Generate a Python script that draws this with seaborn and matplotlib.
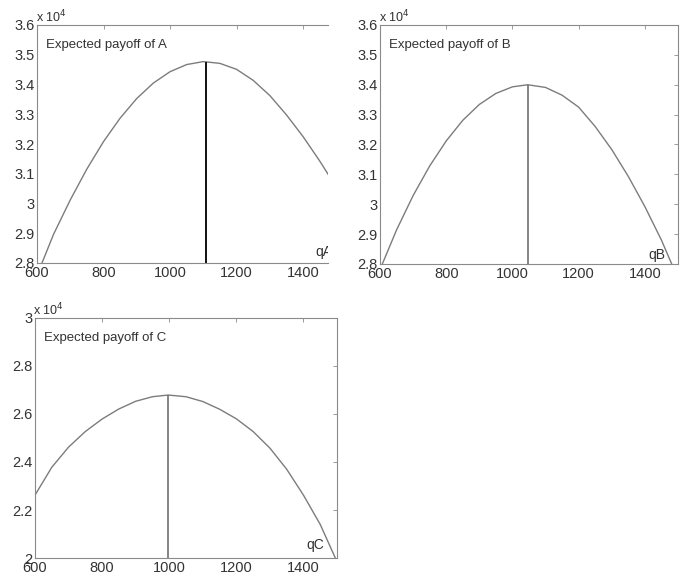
import numpy as np
import pandas as pd
import matplotlib
matplotlib.use("Agg")
import matplotlib.pyplot as plt
import seaborn as sns
from matplotlib.ticker import FuncFormatter

# =========================
# data (payoff in units of 1e4)
# =========================
q_a = [615, 650, 700, 750, 800, 850, 900, 950, 1000, 1050, 1100, 1150, 1200, 1250, 1300, 1350, 1400, 1450, 1480]
payoff_a = [2.800, 2.897, 3.012, 3.116, 3.208, 3.287, 3.353, 3.405, 3.443, 3.467, 3.477, 3.471, 3.451, 3.414,
            3.363, 3.298, 3.225, 3.143, 3.090]

q_b = [607, 650, 700, 750, 800, 850, 900, 950, 1000, 1046, 1100, 1150, 1200, 1250, 1300, 1350, 1400, 1450, 1481]
payoff_b = [2.800, 2.914, 3.029, 3.128, 3.212, 3.281, 3.334, 3.371, 3.393, 3.400, 3.391, 3.365, 3.325, 3.260,
            3.183, 3.093, 2.992, 2.880, 2.800]

q_c = [600, 650, 700, 750, 800, 850, 900, 950, 997, 1050, 1100, 1150, 1200, 1250, 1300, 1350, 1400, 1450, 1495]
payoff_c = [2.262, 2.378, 2.462, 2.527, 2.579, 2.621, 2.653, 2.672, 2.679, 2.672, 2.652, 2.620, 2.580, 2.527,
            2.458, 2.370, 2.262, 2.140, 2.000]

# optimum quantity and payoff (vertical marker)
opt_q = [1107, 1046, 997]
opt_payoff = [3.477, 3.40, 2.679]

titles = ["Expected payoff of A", "Expected payoff of B", "Expected payoff of C"]
q_labels = ["qA", "qB", "qC"]
y_limits = [(2.8, 3.6), (2.8, 3.6), (2.0, 3.0)]
y_ticks = [np.arange(2.8, 3.61, 0.1), np.arange(2.8, 3.61, 0.1), np.arange(2.0, 3.01, 0.2)]
x_ticks = [600, 800, 1000, 1200, 1400]

# =========================
# style
# =========================
sns.set_style("white")
plt.rcParams["font.family"] = ["Liberation Sans", "DejaVu Sans"]
text_col = "#333333"
box_col = "#8a8a8a"
curve_col = "#7c7c7c"

fig = plt.figure(figsize=(6.83, 5.77), dpi=100)
W, H = 683, 577


def px_axes(left, top, right, bottom):
    return fig.add_axes([left / W, (H - bottom) / H, (right - left) / W, (bottom - top) / H])


axes = [
    px_axes(37, 25, 328, 263),
    px_axes(380, 25, 678, 264),
    px_axes(35, 318, 337, 558),
]
x_limits = [(600, 1475), (600, 1500), (600, 1500)]
curves = [(q_a, payoff_a), (q_b, payoff_b), (q_c, payoff_c)]
vline_cols = ["#111111", "#707070", "#707070"]
vline_w = [1.4, 1.2, 1.2]
label_pos = [(0.955, 0.015), (0.9, 0.01), (0.9, 0.025)]

for i, ax in enumerate(axes):
    q, p = curves[i]
    df = pd.DataFrame({"q": q, "payoff": np.array(p) * 1e4})
    sns.lineplot(data=df, x="q", y="payoff", ax=ax, color=curve_col, linewidth=1.0, sort=True)
    ax.vlines(opt_q[i], y_limits[i][0] * 1e4, opt_payoff[i] * 1e4, color=vline_cols[i], linewidth=vline_w[i])

    ax.set_xlim(*x_limits[i])
    ax.set_ylim(y_limits[i][0] * 1e4, y_limits[i][1] * 1e4)
    ax.set_xticks(x_ticks)
    ax.set_yticks(y_ticks[i] * 1e4)
    ax.yaxis.set_major_formatter(FuncFormatter(lambda v, pos: f"{round(v / 1e4, 2):g}"))
    ax.set_xlabel("")
    ax.set_ylabel("")

    for s in ax.spines.values():
        s.set_color(box_col)
        s.set_linewidth(0.8)
    ax.tick_params(direction="in", length=3, width=0.6, color=box_col, labelsize=10.5,
                   labelcolor=text_col, top=True, right=(i != 0), pad=2)
    if i == 0:
        ax.spines["right"].set_visible(False)

    ax.text(-0.005, 1.0, r"x 10$^4$", transform=ax.transAxes, ha="left", va="bottom",
            fontsize=9, color=text_col)
    ax.text(0.03, 0.915, titles[i], transform=ax.transAxes, ha="left", va="center",
            fontsize=9.5, color=text_col)
    ax.text(label_pos[i][0], label_pos[i][1], q_labels[i], transform=ax.transAxes, ha="left",
            va="bottom", fontsize=10, color=text_col, clip_on=True)

fig.savefig("out.png", dpi=100, facecolor="white")
